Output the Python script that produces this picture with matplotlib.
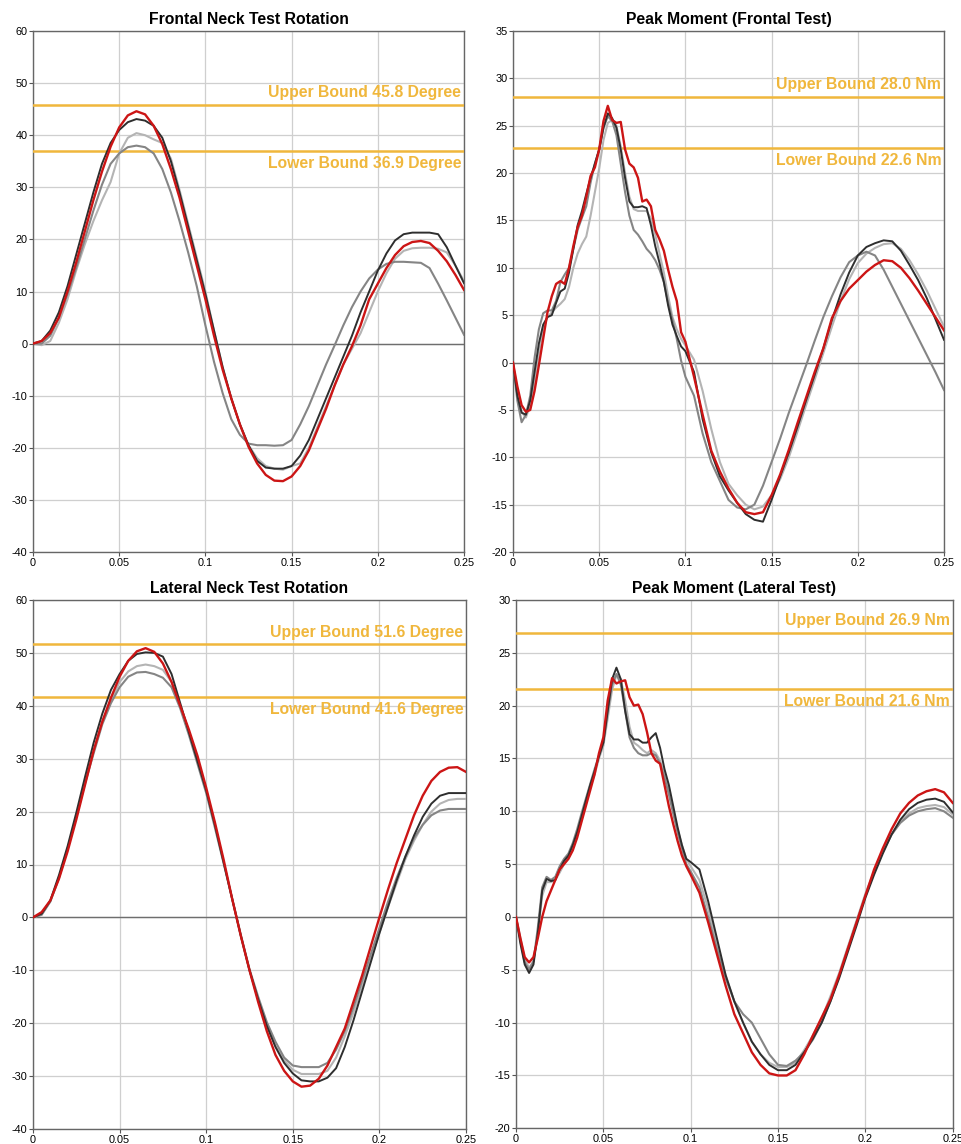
import numpy as np
import matplotlib
matplotlib.use("Agg")
import matplotlib.pyplot as plt
from matplotlib.transforms import blended_transform_factory

plt.rcParams['font.family'] = ['Liberation Sans', 'DejaVu Sans']

# ---------------- time grids ----------------
T_ROT = np.round(np.arange(0, 0.2501, 0.005), 4)
T_MOM = np.round(np.concatenate([np.arange(0, 0.1001, 0.0025), np.arange(0.105, 0.2501, 0.005)]), 4)

# ---------------- Panel 1: Frontal Neck Test Rotation ----------------
p1_red = [0, 0.5, 2, 5, 10, 15.5, 21.5, 27.5, 33, 37.8, 41.5, 43.8, 44.6, 44, 41.8, 38.3, 33.5, 28, 21.5, 15,
          8.5, 1.5, -5, -10.5, -15.5, -19.8, -23, -25.2, -26.3, -26.4, -25.5, -23.5, -20.5, -16.5, -12.5, -8, -4,
          -0.5, 3.5, 8.5, 11.5, 14.5, 17, 18.7, 19.5, 19.7, 19.3, 17.8, 15.8, 13.2, 10.3]
p1_black = [0, 0.5, 2.5, 6, 11, 17, 23, 29, 34.5, 38.5, 41, 42.5, 43.1, 42.8, 41.8, 39.5, 35, 29, 22.5, 16,
            9.5, 2.5, -4.5, -10.5, -15.5, -19.5, -22.5, -23.8, -24, -24, -23.5, -21.5, -18.5, -14.5, -10.5, -6.5,
            -2.5, 1.5, 6, 10, 14, 17.3, 19.8, 21, 21.3, 21.3, 21.3, 21, 18.5, 15, 11.6]
p1_light = [0, -0.3, 0.5, 4, 8.5, 14, 19, 23.5, 27.5, 31, 36.5, 39.5, 40.4, 40, 39.2, 38.5, 35.5, 29.5, 23, 16.5,
            10, 2.5, -4.5, -10.5, -15.5, -19.5, -22, -23.5, -24, -24.2, -23.5, -23, -20, -16, -12, -8, -4, -1,
            2, 6, 10, 13.5, 16.3, 17.8, 18.3, 18.4, 18.4, 18.2, 17.5, 15, 12]
p1_gray = [0, 0, 1.5, 5, 9.5, 14.5, 20, 25.5, 30.5, 34.5, 36.5, 37.7, 38, 37.7, 36.5, 33.5, 29, 23.5, 17.5, 11,
           3.5, -3.5, -9.5, -14.5, -17.5, -19.2, -19.5, -19.5, -19.6, -19.5, -18.5, -15.5, -12, -8, -4, -0.3,
           3.5, 7, 10, 12.5, 14.2, 15.3, 15.7, 15.7, 15.6, 15.5, 14.5, 11.5, 8.3, 5, 1.7]

# ---------------- Panel 2: Peak Moment (Frontal Test) ----------------
p2_red = [0, -2.5, -4.5, -5.2, -5, -3, -0.3, 2.5, 5.3, 7, 8.3, 8.6, 8.3, 10, 12.3, 14.3, 15.5, 17.5, 19.7, 20.6,
          22.5, 25.5, 27.1, 25.6, 25.3, 25.4, 22.5, 21, 20.6, 19.5, 17, 17.2, 16.5, 14, 13, 11.8, 9.8, 8, 6.5,
          3.2, 2.2,
          -1.5, -5.5, -9.3, -11.5, -13.3, -14.8, -15.8, -16, -15.8, -14, -11.8, -9.2, -6.4, -3.7, -1, 1.5, 4.7,
          6.5, 7.8, 8.7, 9.6, 10.3, 10.8, 10.7, 10, 8.9, 7.6, 6.2, 4.8, 3.4]
p2_black = [0, -3.5, -5.3, -5.5, -4, -1, 2, 4, 4.8, 5, 6.3, 7.5, 7.8, 9.5, 12, 14.5, 16, 17.8, 19.5, 21,
            22.5, 24.8, 26.3, 25.8, 24.8, 22.5, 19.5, 17, 16.4, 16.4, 16.5, 16.3, 14.5, 12.3, 10.5, 8.5, 6, 4,
            2.8, 1.7, 1.2,
            -1, -6, -9.5, -12, -13.5, -14.8, -16, -16.6, -16.8, -14.5, -12, -9.5, -6.8, -4, -1.3, 1.5, 4.5,
            7.2, 9.5, 11.3, 12.2, 12.6, 12.9, 12.8, 11.8, 10.3, 8.7, 6.8, 4.6, 2.4]
p2_light = [0, -3, -5.2, -5.8, -4.5, -2, 1, 3.5, 4.8, 5.3, 5.8, 6.2, 6.7, 8, 10, 11.5, 12.5, 13.3, 15.5, 18,
            20.5, 23.5, 25.3, 25.6, 25, 22.8, 20, 17.5, 16.2, 16, 16, 16, 15.2, 13.5, 11.5, 9.5, 7, 4.8, 3.5,
            2.5, 1.8,
            0.3, -3, -7, -10.5, -12.8, -14, -15, -15.5, -15.2, -14, -12.3, -10, -7.3, -4.5, -1.8, 1, 3.8,
            6.5, 8.8, 10.5, 11.5, 12.1, 12.5, 12.6, 12, 10.8, 9.3, 7.6, 5.7, 3.8]
p2_gray = [0, -4, -6.3, -5.5, -3.5, 0.5, 3.5, 5.2, 5.5, 5.5, 6.5, 8.5, 9.3, 10, 12, 14, 15.3, 16.5, 19, 21,
           22.5, 24.8, 26, 25.5, 24, 21, 18, 15.5, 14, 13.5, 12.8, 12, 11.5, 10.8, 9.8, 8.5, 6.3, 4.5, 2.5,
           0.2, -1.5,
           -3.5, -7.5, -10.5, -12.5, -14.5, -15.3, -15.5, -15, -13, -10.5, -8, -5.3, -2.8, -0.3, 2.3, 4.8,
           7, 9, 10.6, 11.3, 11.7, 11.3, 9.8, 8, 6.2, 4.4, 2.6, 0.8, -1, -2.9]

# ---------------- Panel 3: Lateral Neck Test Rotation ----------------
p3_red = [0, 1, 3.2, 7.3, 12.5, 18.5, 25, 31.5, 37, 41.5, 45.5, 48.5, 50.3, 50.9, 50.2, 48, 44.5, 40, 35.5,
          30.5, 24.5, 18, 11, 3.5, -3.5, -10, -16, -21.5, -26, -29, -31, -32, -31.8, -30.5, -28, -24.5, -21,
          -16, -11, -5.5, 0, 5.3, 10.3, 14.8, 19.3, 23, 25.8, 27.5, 28.3, 28.4, 27.5]
p3_black = [0, 0.7, 3.2, 8, 13.5, 19.8, 26.5, 33, 38.5, 43, 46, 48.5, 49.8, 50.1, 50, 49.3, 46, 40.5, 35, 29.5,
            24, 17.5, 10.5, 3.5, -3.5, -10, -15.5, -20.5, -24.5, -27.5, -29.5, -30.8, -31, -31, -30.3, -28.5,
            -24.5, -19.5, -14, -8.5, -3, 2, 7, 11.5, 15.5, 19, 21.5, 23, 23.5, 23.5, 23.5]
p3_light = [0, 0.5, 3, 7.5, 13, 19, 25.5, 31.5, 37, 41, 44.5, 46.5, 47.5, 47.8, 47.5, 46.8, 44.5, 40, 35, 29.5,
            24, 17.5, 10.5, 3.5, -3.5, -10, -15.5, -20.5, -24.3, -27, -28.8, -29.6, -29.6, -29.6, -29, -26.5,
            -22.5, -18, -13, -8, -3, 2, 6.5, 11, 14.5, 17.5, 20, 21.5, 22.2, 22.4, 22.4]
p3_gray = [0, 0.5, 3, 7.5, 13, 19, 25.3, 31, 36.5, 40.5, 43.5, 45.5, 46.3, 46.4, 46, 45.3, 43.5, 39.5, 34.5, 29,
           23.5, 17, 10.3, 3.5, -3.3, -9.8, -15, -19.8, -23.5, -26.5, -28, -28.3, -28.3, -28.3, -27.5, -25,
           -21.5, -17, -12, -7, -2, 3, 7.5, 11.5, 15, 17.5, 19.3, 20.2, 20.5, 20.5, 20.5]

# ---------------- Panel 4: Peak Moment (Lateral Test) ----------------
p4_red = [0, -2, -3.8, -4.3, -3.8, -2, 0, 1.5, 2.5, 3.5, 4.5, 5, 5.5, 6.3, 7.5, 9, 10.5, 12, 13.5, 15.5,
          17, 20.5, 22.6, 22.1, 22.3, 22.4, 20.8, 20, 20.1, 19.2, 17.5, 15.5, 14.8, 14.5, 12.5, 10.5, 8.8, 7.2,
          5.8, 4.8, 4,
          2.3, -0.5, -3.5, -6.5, -9.2, -11, -12.8, -14, -14.8, -15, -15, -14.5, -13, -11.2, -9.5, -7.8, -5.5,
          -3, -0.5, 2, 4.5, 6.5, 8.3, 9.8, 10.8, 11.5, 11.9, 12.1, 11.8, 10.8]
p4_black = [0, -2.5, -4.5, -5.3, -4.5, -1.5, 2.5, 3.6, 3.4, 3.5, 4.5, 5.3, 5.8, 6.8, 8, 9.5, 11, 12.5, 13.8,
            15.2, 16.5, 19.5, 22.5, 23.6, 22.5, 19.5, 17.3, 16.8, 16.8, 16.5, 16.5, 17, 17.4, 16, 14, 12.5, 10.5,
            8.5, 6.8, 5.5, 5.2,
            4.5, 1.5, -2, -5.5, -8, -10, -11.8, -13, -14, -14.5, -14.5, -14, -12.8, -11.5, -10, -8, -5.8, -3.3,
            -0.8, 1.8, 4, 6, 7.8, 9.2, 10.2, 10.8, 11.1, 11.2, 10.9, 9.9]
p4_light = [0, -2, -4, -4.8, -4.2, -1.5, 2, 3.3, 3.3, 3.5, 4.2, 5, 5.6, 6.5, 7.8, 9.2, 10.8, 12.3, 13.5, 15,
            16.2, 18.8, 21.5, 22.9, 22.5, 20.5, 18, 16.5, 16.2, 15.8, 15.5, 15.8, 15.5, 14.8, 13.5, 12, 10, 8.3,
            6.8, 5.5, 4.8,
            3.5, 0.8, -2.5, -5.5, -8, -10, -11.8, -13, -13.8, -14.2, -14.2, -13.8, -12.6, -11.2, -9.6, -7.5,
            -5.3, -2.8, -0.3, 2.2, 4.3, 6.2, 7.8, 9, 9.8, 10.3, 10.5, 10.6, 10.4, 9.7]
p4_gray = [0, -2.2, -4.3, -5, -4.2, -1, 2.8, 3.8, 3.5, 3.8, 4.8, 5.5, 6, 7, 8.3, 9.8, 11.2, 12.6, 14, 15.3,
           16.5, 19.5, 22, 23, 22, 19.5, 17, 16, 15.5, 15.3, 15.3, 15.5, 15.3, 14.5, 13.2, 11.6, 9.8, 8, 6.5,
           5, 4.3,
           2.8, 0, -3, -5.8, -8, -9.2, -10, -11.5, -13, -14, -14.1, -13.6, -12.8, -11.6, -10, -8, -5.6, -3,
           -0.5, 2, 4.2, 6.2, 7.8, 8.9, 9.6, 10, 10.2, 10.3, 10, 9.4]

# ---------------- titles, bounds, axis ranges ----------------
titles = ["Frontal Neck Test Rotation", "Peak Moment (Frontal Test)",
          "Lateral Neck Test Rotation", "Peak Moment (Lateral Test)"]
upper_bounds = [45.8, 28.0, 51.6, 26.9]
lower_bounds = [36.9, 22.6, 41.6, 21.6]
units = ["Degree", "Nm", "Degree", "Nm"]
y_ranges = [(-40, 60), (-20, 35), (-40, 60), (-20, 30)]
y_steps = [10, 5, 10, 5]
x_ticks = [0, 0.05, 0.1, 0.15, 0.2, 0.25]
x_tick_labels = ["0", "0.05", "0.1", "0.15", "0.2", "0.25"]

panels = [
    (T_ROT, p1_light, p1_gray, p1_black, p1_red),
    (T_MOM, p2_light, p2_gray, p2_black, p2_red),
    (T_ROT, p3_light, p3_gray, p3_black, p3_red),
    (T_MOM, p4_light, p4_gray, p4_black, p4_red),
]

# axes boxes in pixels (left, top, right, bottom)
W, H = 962, 1144
boxes_px = [(33, 31, 464, 552), (513, 31, 944, 552), (33, 600, 466, 1129), (516, 600, 952.7, 1128.3)]

BOUND_COLOR = "#F0B73C"
COL_LIGHT = "#B4B4B4"
COL_GRAY = "#858585"
COL_BLACK = "#2E2E2E"
COL_RED = "#CC1515"

fig = plt.figure(figsize=(W / 100, H / 100), dpi=100)
fig.patch.set_facecolor("white")

for i, (box, data) in enumerate(zip(boxes_px, panels)):
    l, t, r, b = box
    ax = fig.add_axes([l / W, 1 - b / H, (r - l) / W, (b - t) / H])
    tt, light, gray, black, red = data
    ax.plot(tt, light, color=COL_LIGHT, lw=1.5, zorder=3)
    ax.plot(tt, gray, color=COL_GRAY, lw=1.5, zorder=3)
    ax.plot(tt, black, color=COL_BLACK, lw=1.4, zorder=4)
    ax.plot(tt, red, color=COL_RED, lw=1.7, zorder=5)

    ymin, ymax = y_ranges[i]
    ax.set_xlim(0, 0.25)
    ax.set_ylim(ymin, ymax)
    ax.set_xticks(x_ticks)
    ax.set_xticklabels(x_tick_labels)
    yt = np.arange(ymin, ymax + 0.1, y_steps[i])
    ax.set_yticks(yt)
    ax.set_yticklabels([f"{v:g}" for v in yt])
    ax.grid(True, color="#CFCFCF", lw=0.9, zorder=0)
    ax.axhline(0, color="#6E6E6E", lw=1.0, zorder=2.5)
    ax.tick_params(axis="both", labelsize=7.8, length=3, width=0.8, pad=1, colors="#555555",
                   labelcolor="black")
    for s in ax.spines.values():
        s.set_color("#666666")
        s.set_linewidth(1.0)

    ub, lb = upper_bounds[i], lower_bounds[i]
    ax.axhline(ub, color=BOUND_COLOR, lw=1.8, zorder=2.6)
    ax.axhline(lb, color=BOUND_COLOR, lw=1.8, zorder=2.6)
    trans = blended_transform_factory(ax.transAxes, ax.transData)
    ax.annotate(f"Upper Bound {ub:.1f} {units[i]}", xy=(1, ub), xycoords=trans,
                xytext=(-2, 3.5), textcoords="offset points", ha="right", va="bottom",
                color=BOUND_COLOR, fontsize=11.3, fontweight="bold", zorder=6)
    ax.annotate(f"Lower Bound {lb:.1f} {units[i]}", xy=(1, lb), xycoords=trans,
                xytext=(-2, -3.5), textcoords="offset points", ha="right", va="top",
                color=BOUND_COLOR, fontsize=11.3, fontweight="bold", zorder=6)
    ax.set_title(titles[i], fontsize=11.3, fontweight="bold", pad=5)

fig.savefig("out.png", dpi=100, facecolor="white")
